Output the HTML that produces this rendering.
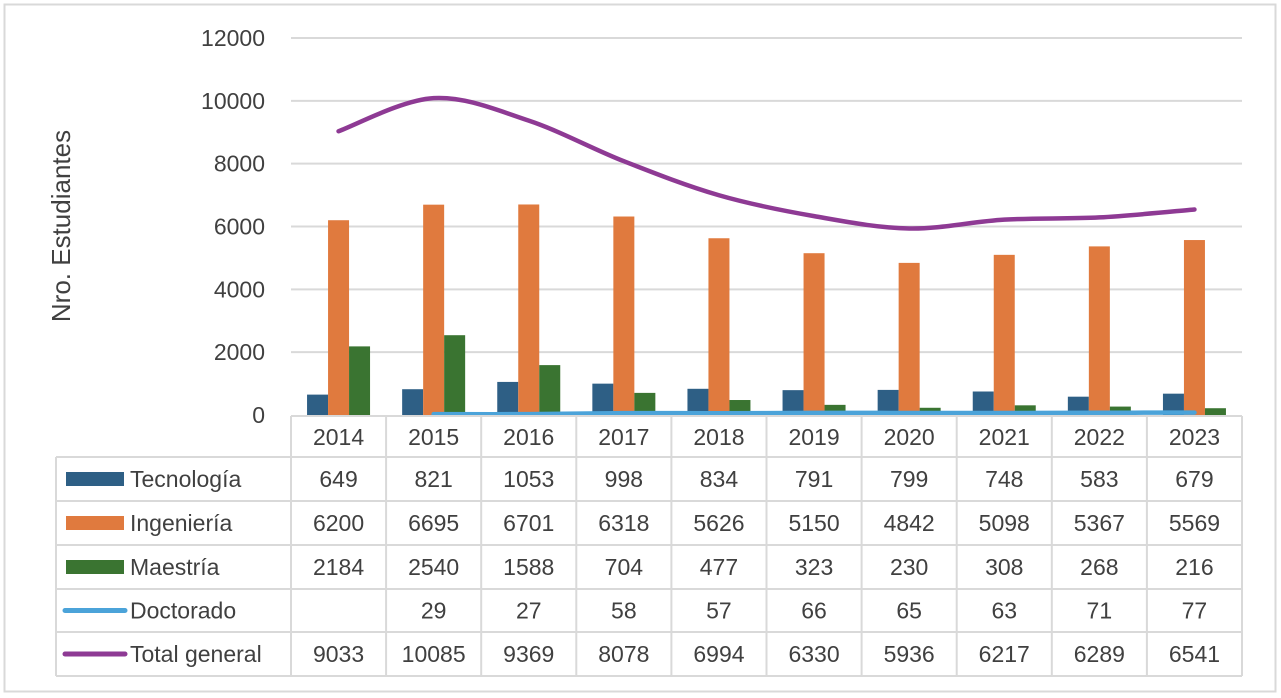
<!DOCTYPE html>
<html><head><meta charset="utf-8"><style>
body{margin:0;background:#fff;}
svg{display:block;font-family:"Liberation Sans",sans-serif;}
</style></head><body>
<svg id="c" width="1281" height="698"></svg>
<script>
const years=["2014","2015","2016","2017","2018","2019","2020","2021","2022","2023"];
const tecnologia=[649,821,1053,998,834,791,799,748,583,679];
const ingenieria=[6200,6695,6701,6318,5626,5150,4842,5098,5367,5569];
const maestria=[2184,2540,1588,704,477,323,230,308,268,216];
const doctorado=[null,29,27,58,57,66,65,63,71,77];
const total=[9033,10085,9369,8078,6994,6330,5936,6217,6289,6541];
const yTicks=[0,2000,4000,6000,8000,10000,12000];
const NS="http://www.w3.org/2000/svg";
const svg=document.getElementById('c');
const X0=291,X1=1242,Y0=415,Y1=38,YMAX=12000;
const cw=(X1-X0)/years.length;
const y=v=>Y0-(v/YMAX)*(Y0-Y1);
const xc=i=>X0+cw*(i+0.5);
const FS=23;
function el(t,a,name,txt){const e=document.createElementNS(NS,t);for(const k in a)e.setAttribute(k,a[k]);


if(txt!==undefined)e.textContent=txt;svg.appendChild(e);return e;}
el('rect',{x:4.5,y:4.5,width:1271,height:687,fill:'#fff',stroke:'#d9d9d9','stroke-width':2},'chart-border');
yTicks.forEach(t=>{if(t>0)el('line',{x1:X0,x2:X1,y1:y(t),y2:y(t),stroke:'#d9d9d9','stroke-width':2},'gridline-'+t);
el('text',{x:265,y:y(t)+8,'text-anchor':'end','font-size':FS,fill:'#404040'},'y-tick-'+t,String(t));});
el('text',{x:0,y:0,transform:'translate(70,226) rotate(-90)','text-anchor':'middle','font-size':26,fill:'#404040'},'y-axis-title','Nro. Estudiantes');
const bw=21;
const series=[[tecnologia,'#2e5f85','tecnologia'],[ingenieria,'#e07a3e','ingenieria'],[maestria,'#3a7431','maestria']];
years.forEach((yr,i)=>{series.forEach((s,j)=>{const v=s[0][i];const x=xc(i)-1.5*bw+j*bw;
el('rect',{x:x,y:y(v),width:bw,height:Y0-y(v),fill:s[1]},'bar-'+s[2]+'-'+yr);});});
function smooth(vals){const pts=[];vals.forEach((v,i)=>{if(v!==null)pts.push([xc(i),y(v)]);});
let d='M'+pts[0][0]+','+pts[0][1];
for(let i=0;i<pts.length-1;i++){const p0=pts[i-1]||pts[i],p1=pts[i],p2=pts[i+1],p3=pts[i+2]||p2;
const c1=[p1[0]+(p2[0]-p0[0])/6,p1[1]+(p2[1]-p0[1])/6],c2=[p2[0]-(p3[0]-p1[0])/6,p2[1]-(p3[1]-p1[1])/6];
d+=' C'+c1+' '+c2+' '+p2;}return d;}
el('path',{d:smooth(doctorado),fill:'none',stroke:'#4ba3d9','stroke-width':4.5,'stroke-linecap':'round'},'line-doctorado');
el('path',{d:smooth(total),fill:'none',stroke:'#8e3a94','stroke-width':4.5,'stroke-linecap':'round'},'line-total-general');
const TL=56,rows=[416,457,501,545,589,632,676];
const g='#d9d9d9';
el('line',{x1:X0,x2:X1,y1:rows[0],y2:rows[0],stroke:g,'stroke-width':2},'table-top');
for(let r=1;r<rows.length;r++)el('line',{x1:TL,x2:X1,y1:rows[r],y2:rows[r],stroke:g,'stroke-width':2},'table-row-line');
el('line',{x1:TL,x2:TL,y1:rows[1],y2:rows[6],stroke:g,'stroke-width':2},'table-left');
for(let i=0;i<=years.length;i++)el('line',{x1:X0+cw*i,x2:X0+cw*i,y1:rows[0],y2:rows[6],stroke:g,'stroke-width':2},'table-col-line');
years.forEach((yr,i)=>el('text',{x:xc(i),y:445,'text-anchor':'middle','font-size':FS,fill:'#404040'},'year-label-'+yr,yr));
const tab=[['Tecnología',tecnologia,'#2e5f85','bar'],['Ingeniería',ingenieria,'#e07a3e','bar'],['Maestría',maestria,'#3a7431','bar'],['Doctorado',doctorado,'#4ba3d9','line'],['Total general',total,'#8e3a94','line']];
tab.forEach((t,r)=>{const cy=(rows[r+1]+rows[r+2])/2;
if(t[3]==='bar')el('rect',{x:66,y:cy-7,width:58,height:14,fill:t[2]},'legend-key-'+r);
else el('line',{x1:65,x2:125,y1:cy,y2:cy,stroke:t[2],'stroke-width':5,'stroke-linecap':'round'},'legend-key-'+r);
el('text',{x:130,y:cy+8,'font-size':FS,fill:'#404040'},'legend-label-'+r,t[0]);
t[1].forEach((v,i)=>{if(v!==null)el('text',{x:xc(i),y:cy+8,'text-anchor':'middle','font-size':FS,fill:'#404040'},'cell-'+r+'-'+i,String(v));});});
</script>
</body></html>
